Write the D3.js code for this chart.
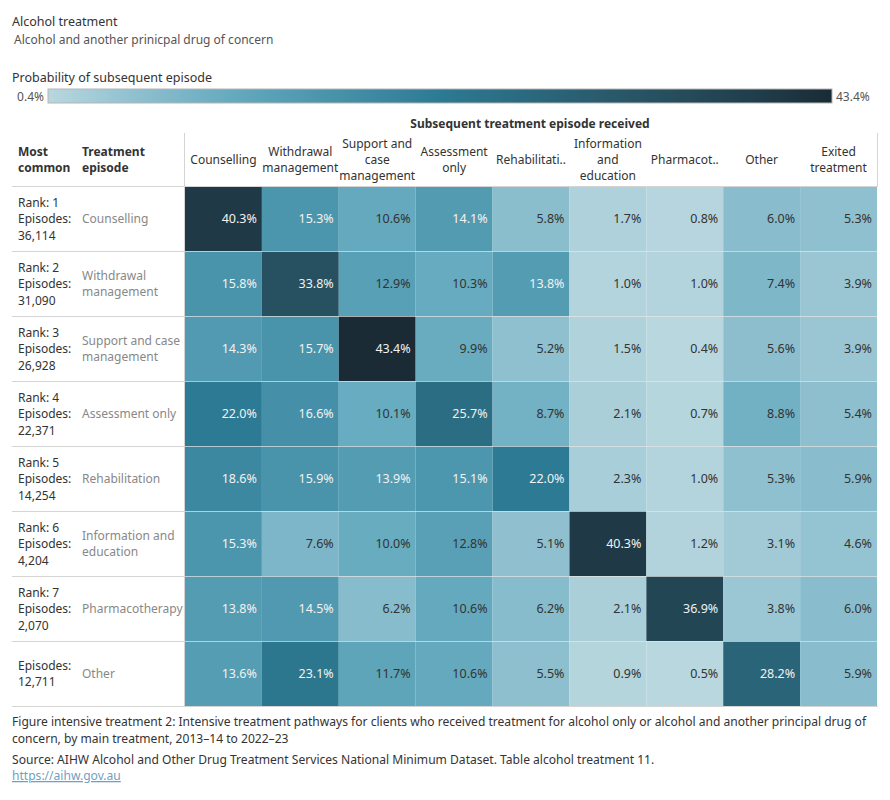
<!DOCTYPE html>
<html>
<head>
<meta charset="utf-8">
<script src="https://cdn.jsdelivr.net/npm/d3@7"></script>
<style>
  body { margin: 0; background: #fff; }
  svg text { font-family: "Noto Sans", "Open Sans", sans-serif; }
</style>
</head>
<body>
<svg id="chart" width="890" height="800"></svg>
<script>
// Subsequent treatment columns (header lines as shown).
const columns = ["Counselling", "Withdrawal management", "Support and case management",
    "Assessment only", "Rehabilitation", "Information and education",
    "Pharmacotherapy", "Other", "Exited treatment"];
const columnLabels = [["Counselling"], ["Withdrawal", "management"], ["Support and", "case", "management"],
    ["Assessment", "only"], ["Rehabilitati.."], ["Information", "and", "education"],
    ["Pharmacot.."], ["Other"], ["Exited", "treatment"]];

// Main treatment rows.
const rowNames = ["Counselling", "Withdrawal management", "Support and case management",
    "Assessment only", "Rehabilitation", "Information and education", "Pharmacotherapy", "Other"];
const rowLabels = [["Counselling"], ["Withdrawal", "management"], ["Support and case", "management"],
    ["Assessment only"], ["Rehabilitation"], ["Information and", "education"], ["Pharmacotherapy"], ["Other"]];
const ranks = [1, 2, 3, 4, 5, 6, 7, null];
const episodes = [36114, 31090, 26928, 22371, 14254, 4204, 2070, 12711];

// Probability of subsequent episode (%), one array per row.
const values = [
    [40.3, 15.3, 10.6, 14.1, 5.8, 1.7, 0.8, 6.0, 5.3],
    [15.8, 33.8, 12.9, 10.3, 13.8, 1.0, 1.0, 7.4, 3.9],
    [14.3, 15.7, 43.4, 9.9, 5.2, 1.5, 0.4, 5.6, 3.9],
    [22.0, 16.6, 10.1, 25.7, 8.7, 2.1, 0.7, 8.8, 5.4],
    [18.6, 15.9, 13.9, 15.1, 22.0, 2.3, 1.0, 5.3, 5.9],
    [15.3, 7.6, 10.0, 12.8, 5.1, 40.3, 1.2, 3.1, 4.6],
    [13.8, 14.5, 6.2, 10.6, 6.2, 2.1, 36.9, 3.8, 6.0],
    [13.6, 23.1, 11.7, 10.6, 5.5, 0.9, 0.5, 28.2, 5.9]
];

const svg = d3.select("#chart");

// Colour scale built from a few stops sampled off the legend.
const colorStops = [0.4, 5.2, 10, 15, 22, 28.2, 33.8, 40.3, 43.4];
const colorRange = ["#b9d7df", "#8fc0cf", "#68acc0", "#4d97ae", "#2c7a93", "#2a6478", "#275060", "#1f3a46", "#1a2b35"];
const color = d3.scaleLinear().domain(colorStops).range(colorRange).interpolate(d3.interpolateRgb);

// Title block.
svg.append("text").attr("x", 12).attr("y", 26)
    .attr("font-size", 12.5).attr("fill", "#333").text("Alcohol treatment");
svg.append("text").attr("x", 14).attr("y", 44)
    .attr("font-size", 12).attr("fill", "#555").text("Alcohol and another prinicpal drug of concern");

// Legend.
svg.append("text").attr("x", 12).attr("y", 82)
    .attr("font-size", 12.5).attr("fill", "#333").text("Probability of subsequent episode");

const legendX = d3.scaleLinear().domain([0.4, 43.4]).range([48, 832]);
const grad = svg.append("defs").append("linearGradient").attr("id", "legend-grad");
d3.range(0, 1.0001, 0.05).forEach(function(t) {
    let v = 0.4 + t * 43;
    grad.append("stop").attr("offset", t).attr("stop-color", color(v));
});
svg.append("rect")
    .attr("x", legendX(0.4)).attr("y", 89)
    .attr("width", legendX(43.4) - legendX(0.4)).attr("height", 14)
    .attr("fill", "url(#legend-grad)")
    .attr("stroke", "#b5b5b5").attr("stroke-width", 1);
svg.append("text").attr("x", legendX(0.4) - 4).attr("y", 101)
    .attr("text-anchor", "end").attr("font-size", 12).attr("fill", "#555").text("0.4%");
svg.append("text").attr("x", legendX(43.4) + 4).attr("y", 101)
    .attr("font-size", 12).attr("fill", "#555").text("43.4%");

// Grid scales.
const x = d3.scaleBand().domain(columns).range([185, 877]);
const y = d3.scaleBand().domain(rowNames).range([186, 706]);

// Column group header.
svg.append("text").attr("x", (x.range()[0] + x.range()[1]) / 2 - 1).attr("y", 128)
    .attr("text-anchor", "middle").attr("font-size", 12).attr("font-weight", "bold")
    .attr("fill", "#333").text("Subsequent treatment episode received");

// Row header titles.
[["Most", "common"], ["Treatment", "episode"]].forEach(function(lines, i) {
    let t = svg.append("text").attr("x", i === 0 ? 18 : 82).attr("y", 156)
        .attr("font-size", 12).attr("font-weight", "bold").attr("fill", "#333");
    lines.forEach(function(l, j) {
        t.append("tspan").attr("x", i === 0 ? 18 : 82).attr("dy", j === 0 ? 0 : 16).text(l);
    });
});

// Column headers, vertically centred.
columns.forEach(function(c, i) {
    let lines = columnLabels[i];
    let cx = x(c) + x.bandwidth() / 2;
    let startY = 164 - (lines.length - 1) * 8;
    let t = svg.append("text").attr("text-anchor", "middle")
        .attr("font-size", 12).attr("fill", "#333");
    lines.forEach(function(l, j) {
        t.append("tspan").attr("x", cx).attr("y", startY + j * 16).text(l);
    });
});

// Cells.
const cells = [];
values.forEach(function(row, r) {
    row.forEach(function(v, c) {
        cells.push({row: rowNames[r], col: columns[c], value: v});
    });
});

const cell = svg.append("g").selectAll("g").data(cells).join("g");
cell.append("rect")
    .attr("x", d => x(d.col))
    .attr("y", d => y(d.row))
    .attr("width", x.bandwidth())
    .attr("height", y.bandwidth())
    .attr("fill", d => color(d.value));
cell.append("text")
    .attr("x", d => x(d.col) + x.bandwidth() - 5)
    .attr("y", d => y(d.row) + y.bandwidth() / 2 + 4.5)
    .attr("text-anchor", "end")
    .attr("font-size", 12.5)
    .attr("fill", d => d.value >= 13.2 ? "#f2f2f2" : "#333")
    .text(d => d.value.toFixed(1) + "%");

// Row separators (across labels and cells).
const bounds = rowNames.map(r => y(r)).concat([y.range()[1]]);
svg.append("g").selectAll("line").data(bounds).join("line")
    .attr("x1", 12).attr("x2", d => d === bounds[bounds.length - 1] ? 878 : 185)
    .attr("y1", d => d + 0.5).attr("y2", d => d + 0.5)
    .attr("stroke", "#d4d4d4").attr("stroke-width", 1);
svg.append("g").selectAll("line").data(bounds.slice(1, -1)).join("line")
    .attr("x1", 185).attr("x2", 877)
    .attr("y1", d => d + 0.5).attr("y2", d => d + 0.5)
    .attr("stroke", "#e6e6e6").attr("stroke-width", 1).attr("stroke-opacity", 0.7);

// Header frame lines.
svg.append("line").attr("x1", 184.5).attr("x2", 184.5).attr("y1", 133).attr("y2", 706)
    .attr("stroke", "#d4d4d4");
svg.append("line").attr("x1", 877.5).attr("x2", 877.5).attr("y1", 133).attr("y2", 186)
    .attr("stroke", "#d4d4d4");
svg.append("line").attr("x1", 185).attr("x2", 878).attr("y1", 186.5).attr("y2", 186.5)
    .attr("stroke", "#d4d4d4");

// Row labels.
rowNames.forEach(function(r, i) {
    let cy = y(r) + y.bandwidth() / 2;
    let left = [];
    if (ranks[i] !== null) left.push("Rank: " + ranks[i]);
    left.push("Episodes:");
    left.push(d3.format(",")(episodes[i]));
    let t1 = svg.append("text").attr("font-size", 12).attr("fill", "#333");
    left.forEach(function(l, j) {
        t1.append("tspan").attr("x", 18)
            .attr("y", cy + 4.5 + (j - (left.length - 1) / 2) * 16.5).text(l);
    });
    let lines = rowLabels[i];
    let t2 = svg.append("text").attr("font-size", 12).attr("fill", "#888");
    lines.forEach(function(l, j) {
        t2.append("tspan").attr("x", 82)
            .attr("y", cy + 4.5 + (j - (lines.length - 1) / 2) * 16).text(l);
    });
});

// Footer. The original uses a condensed face, so squeeze the text horizontally
// so the first line spans the same width as in the reference.
const footer = [
    "Figure intensive treatment 2: Intensive treatment pathways for clients who received treatment for alcohol only or alcohol and another principal drug of",
    "concern, by main treatment, 2013\u201314 to 2022\u201323",
    "Source: AIHW Alcohol and Other Drug Treatment Services National Minimum Dataset. Table alcohol treatment 11."
];
const footerY = [726, 743, 764];
const footG = svg.append("g");
footer.forEach(function(f, i) {
    footG.append("text").attr("x", 0).attr("y", footerY[i])
        .attr("font-size", 12.5).attr("fill", "#333").text(f);
});
footG.append("text").attr("x", 0).attr("y", 780)
    .attr("font-size", 12.5).attr("fill", "#6f9fc4")
    .attr("text-decoration", "underline").text("https://aihw.gov.au");
let firstWidth = footG.select("text").node().getComputedTextLength();
let squeeze = 855 / firstWidth;
footG.attr("transform", "translate(12,0) scale(" + squeeze + ",1)");
</script>
</body>
</html>
